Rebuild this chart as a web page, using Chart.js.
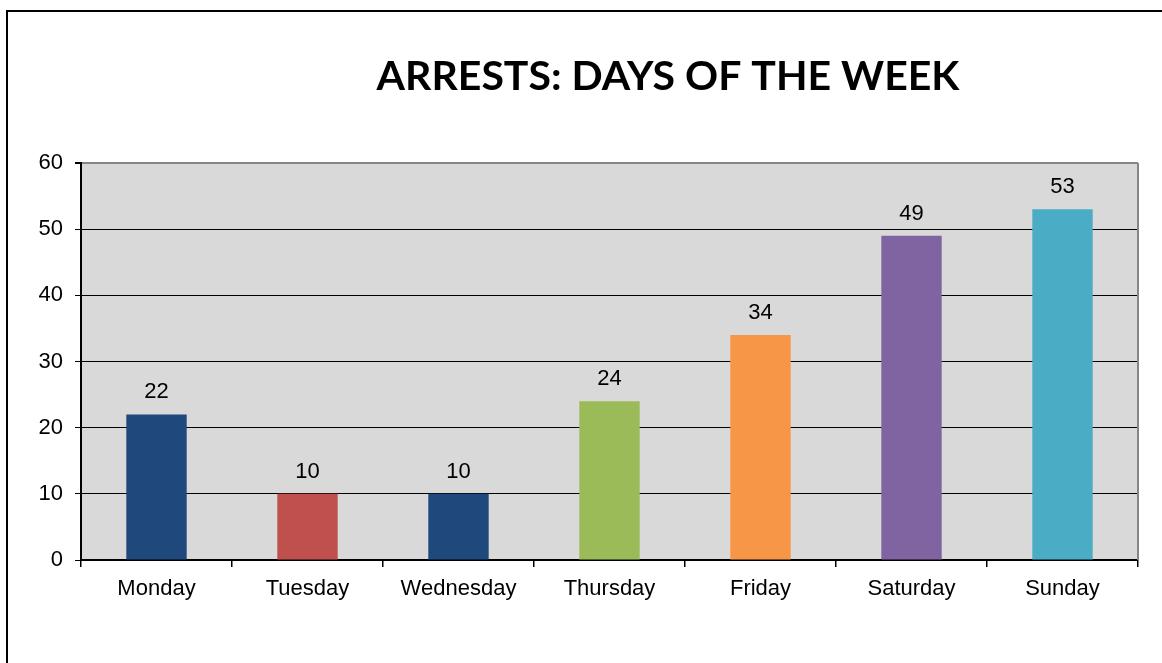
<!DOCTYPE html>
<html>
<head>
<meta charset="utf-8">
<script src="https://cdn.jsdelivr.net/npm/chart.js@4/dist/chart.umd.min.js"></script>
<style>
  html, body { margin: 0; padding: 0; background: #fff; overflow: hidden; }
  #frame {
    position: absolute; left: 6px; top: 10px; width: 1200px; height: 700px;
    border-left: 2px solid #000; border-top: 2px solid #000;
  }
  #wrap { position: absolute; left: 0; top: 0; width: 1162px; height: 663px; }
</style>
</head>
<body>
<div id="frame"></div>
<div id="wrap"><canvas id="myChart" width="1162" height="663"></canvas></div>
<script>
const days = ['Monday', 'Tuesday', 'Wednesday', 'Thursday', 'Friday', 'Saturday', 'Sunday'];
const arrests = [22, 10, 10, 24, 34, 49, 53];
const barColors = ['#1F497D', '#C0504D', '#1F497D', '#9BBB59', '#F79646', '#8064A2', '#4BACC6'];
const yTicks = [0, 10, 20, 30, 40, 50, 60];
const chartTitle = 'ARRESTS: DAYS OF THE WEEK';

const plotBg = {
  id: 'plotBg',
  beforeDraw(chart) {
    const { ctx, chartArea: a } = chart;
    ctx.save();
    ctx.fillStyle = '#D9D9D9';
    ctx.fillRect(a.left, a.top, a.right - a.left, a.bottom - a.top);
    ctx.restore();
  },
  afterDraw(chart) {
    const { ctx, chartArea: a } = chart;
    ctx.save();
    ctx.strokeStyle = '#868686';
    ctx.lineWidth = 2;
    ctx.beginPath();
    ctx.moveTo(a.right, a.top);
    ctx.lineTo(a.right, a.bottom);
    ctx.stroke();
    // title
    ctx.fillStyle = '#000';
    ctx.font = 'bold 41px Lato';
    ctx.textAlign = 'center';
    ctx.textBaseline = 'middle';
    ctx.fillText(chartTitle, 668, 77);
    ctx.restore();
  }
};

const valueLabels = {
  id: 'valueLabels',
  afterDatasetsDraw(chart) {
    const { ctx } = chart;
    const meta = chart.getDatasetMeta(0);
    ctx.save();
    ctx.fillStyle = '#000';
    ctx.font = '22px "Liberation Sans", Arial';
    ctx.textAlign = 'center';
    ctx.textBaseline = 'middle';
    meta.data.forEach((bar, i) => {
      ctx.fillText(String(arrests[i]), bar.x, bar.y - 22);
    });
    ctx.restore();
  }
};

const ctx = document.getElementById('myChart').getContext('2d');
new Chart(ctx, {
  type: 'bar',
  data: {
    labels: days,
    datasets: [{
      label: 'Arrests',
      data: arrests,
      backgroundColor: barColors,
      borderWidth: 0,
      categoryPercentage: 1,
      barPercentage: 0.4
    }]
  },
  options: {
    responsive: false,
    animation: false,
    layout: { padding: { left: 0, right: 24, top: 163, bottom: 0 } },
    plugins: {
      legend: { display: false },
      title: { display: false },
      tooltip: { enabled: false }
    },
    scales: {
      x: {
        offset: true,
        grid: {
          offset: true,
          drawOnChartArea: false,
          drawTicks: true,
          tickLength: 7,
          color: '#000',
          tickColor: '#000',
          lineWidth: 1.5
        },
        border: { color: '#000', width: 2 },
        ticks: {
          color: '#000',
          padding: 9,
          font: { family: '"Liberation Sans", Arial', size: 22 }
        },
        afterFit(scale) { scale.height = 103; }
      },
      y: {
        min: 0,
        max: 60,
        afterBuildTicks(scale) { scale.ticks = yTicks.map(v => ({ value: v })); },
        grid: {
          color: (c) => c.tick && c.tick.value === 60 ? '#868686' : '#000',
          tickColor: '#000',
          lineWidth: (c) => c.tick && c.tick.value === 60 ? 2 : 1,
          tickLength: 6
        },
        border: { color: '#000', width: 2 },
        ticks: {
          color: '#000',
          padding: 12,
          font: { family: '"Liberation Sans", Arial', size: 22 }
        },
        afterFit(scale) { scale.width = 81; }
      }
    }
  },
  plugins: [plotBg, valueLabels]
});
</script>
</body>
</html>
